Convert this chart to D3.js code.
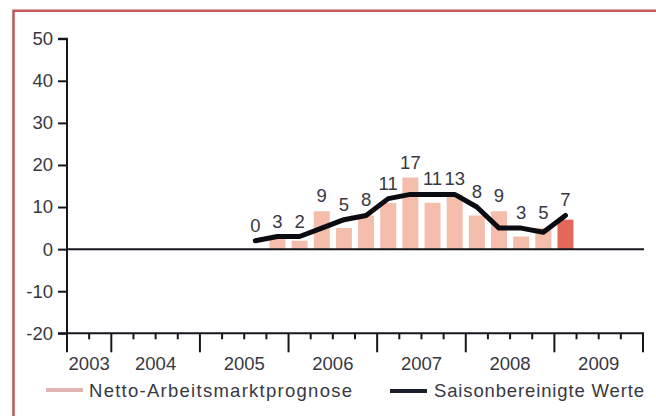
<!DOCTYPE html>
<html>
<head>
<meta charset="utf-8">
<script src="https://cdn.jsdelivr.net/npm/d3@7"></script>
<style>
  html, body { margin: 0; padding: 0; background: #fff; }
  svg { display: block; }
  text { font-family: "Liberation Sans", Arial, Helvetica, sans-serif; fill: #383842; }
</style>
</head>
<body>
<svg id="chart" width="656" height="416"></svg>
<script>
// Quarters on the time axis (2003 Q3 – 2009 Q4)
const years = ["2003", "2004", "2005", "2006", "2007", "2008", "2009"];
const quarters = [];
years.forEach(y => [1, 2, 3, 4].forEach(q => {
  if (!(y === "2003" && q < 3)) quarters.push(y + "Q" + q);
}));

// Survey quarters with values (2005 Q3 – 2009 Q1)
const periods = ["2005Q3", "2005Q4", "2006Q1", "2006Q2", "2006Q3", "2006Q4",
                 "2007Q1", "2007Q2", "2007Q3", "2007Q4", "2008Q1", "2008Q2",
                 "2008Q3", "2008Q4", "2009Q1"];
const netOutlook = [0, 3, 2, 9, 5, 8, 11, 17, 11, 13, 8, 9, 3, 5, 7];
const seasonallyAdjusted = [2, 3, 3, 5, 7, 8, 12, 13, 13, 13, 10, 5, 5, 4, 8];
const yTicks = [-20, -10, 0, 10, 20, 30, 40, 50];
const legendLabels = ["Netto-Arbeitsmarktprognose", "Saisonbereinigte Werte"];

const FS = 18.5;
const svg = d3.select("#chart");

// Frame
svg.append("path")
  .attr("d", "M13.5,416 V10.8 H656")
  .attr("fill", "none")
  .attr("stroke", "#bf5a57")
  .attr("stroke-width", 2.5);

const x = d3.scaleBand().domain(quarters).range([67, 643]).paddingInner(0.28).paddingOuter(0.14);
const xq = d3.scaleBand().domain(quarters).range([67, 643]);
const y = d3.scaleLinear().domain([-20, 50]).range([333.3, 38.7]);

const axisColor = "#16161f";

// Bars
const data = periods.map((p, i) => ({ p, v: netOutlook[i], s: seasonallyAdjusted[i], last: i === periods.length - 1 }));
svg.append("g").selectAll("rect").data(data).join("rect")
  .attr("x", d => x(d.p))
  .attr("width", x.bandwidth())
  .attr("y", d => y(Math.max(0, d.v)))
  .attr("height", d => Math.abs(y(d.v) - y(0)))
  .attr("fill", d => d.last ? "#e2685a" : "#f5bdac");

// Zero line
svg.append("line")
  .attr("x1", 67).attr("x2", 644)
  .attr("y1", y(0)).attr("y2", y(0))
  .attr("stroke", axisColor).attr("stroke-width", 2);

// Seasonally adjusted line
const line = d3.line().x(d => xq(d.p) + xq.bandwidth() / 2).y(d => y(d.s));
svg.append("path")
  .datum(data)
  .attr("d", line)
  .attr("fill", "none")
  .attr("stroke", "#0b0b12")
  .attr("stroke-width", 5)
  .attr("stroke-linejoin", "round")
  .attr("stroke-linecap", "round");

// Value labels
svg.append("g").selectAll("text").data(data).join("text")
  .attr("x", d => xq(d.p) + xq.bandwidth() / 2)
  .attr("y", d => y(Math.max(d.v, d.s)) - 9)
  .attr("text-anchor", "middle")
  .attr("font-size", FS)
  .text(d => d.v);

// Y axis
const yAxis = d3.axisLeft(y).tickValues(yTicks).tickSize(9).tickPadding(5).tickFormat(d => String(d));
const gy = svg.append("g").attr("transform", "translate(67,0)").call(yAxis);
gy.select(".domain").attr("stroke", axisColor).attr("stroke-width", 2).attr("d", `M-9,${y(50)}H0V${y(-20)}H-9`);
gy.selectAll(".tick line").attr("stroke", axisColor).attr("stroke-width", 2);
gy.selectAll(".tick text").attr("font-size", FS).attr("fill", "#383842")
  .attr("font-family", "Liberation Sans, Arial, sans-serif");

// X axis: quarter ticks, longer ticks at year boundaries
const gx = svg.append("g");
gx.append("line")
  .attr("x1", 67).attr("x2", 644)
  .attr("y1", y(-20)).attr("y2", y(-20))
  .attr("stroke", axisColor).attr("stroke-width", 2);
const boundaries = quarters.map(q => ({ q, pos: xq(q) })).concat([{ q: "end", pos: 643 }]);
gx.selectAll("line.tick").data(boundaries).join("line")
  .attr("class", "tick")
  .attr("x1", d => d.pos).attr("x2", d => d.pos)
  .attr("y1", y(-20))
  .attr("y2", d => y(-20) + ((d.q.endsWith("Q1") || d.q === "end" || d.q === quarters[0]) ? 19 : 6))
  .attr("stroke", axisColor).attr("stroke-width", 2);

gx.selectAll("text").data(years).join("text")
  .attr("x", yr => {
    const qs = quarters.filter(q => q.startsWith(yr));
    return (xq(qs[0]) + xq(qs[qs.length - 1]) + xq.bandwidth()) / 2;
  })
  .attr("y", 369.5)
  .attr("text-anchor", "middle")
  .attr("font-size", FS)
  .text(yr => yr);

// Legend
const legend = svg.append("g");
legend.append("line").attr("x1", 46).attr("x2", 83).attr("y1", 390).attr("y2", 390)
  .attr("stroke", "#e2b3b3").attr("stroke-width", 4);
legend.append("text").attr("x", 89).attr("y", 396.5).attr("font-size", FS)
  .attr("textLength", 263).attr("lengthAdjust", "spacing").text(legendLabels[0]);
legend.append("line").attr("x1", 390).attr("x2", 427).attr("y1", 391).attr("y2", 391)
  .attr("stroke", "#1a1e2a").attr("stroke-width", 4);
legend.append("text").attr("x", 434).attr("y", 396.5).attr("font-size", FS)
  .attr("textLength", 210).attr("lengthAdjust", "spacing").text(legendLabels[1]);
</script>
</body>
</html>
